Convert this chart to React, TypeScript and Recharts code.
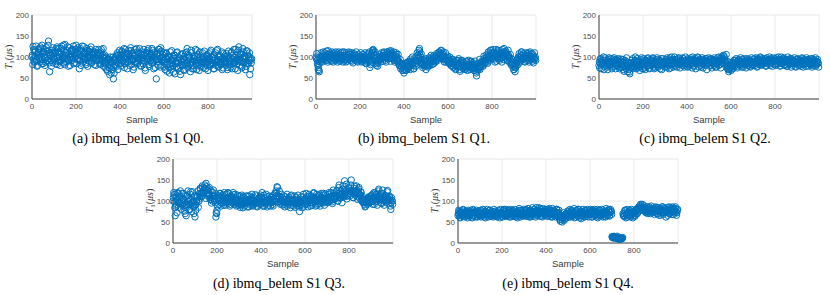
import { CartesianGrid, Scatter, ScatterChart, XAxis, YAxis } from "recharts";

// T1 samples (µs), three interleaved runs per qubit:
// A at samples 0, 5, 10 ..., B and C at the samples in between
const q0T1A = [
  100, 125, 88, 112, 95, 80, 118, 105, 90, 128, 84, 110, 98, 122, 92, 138, 65, 104, 116, 86,
  108, 95, 120, 82, 112, 100, 90, 126, 104, 86, 130, 96, 115, 78, 122, 100, 92, 118, 84, 110,
  128, 94, 112, 72, 120, 102, 88, 125, 98, 82, 115, 105, 90, 118, 85, 108, 96, 112, 80, 104,
  92, 110, 85, 118, 100, 78, 105, 88, 70, 95, 75, 100, 62, 88, 48, 80, 92, 105, 70, 98,
  105, 85, 112, 92, 75, 118, 100, 88, 108, 80, 115, 95, 70, 104, 90, 120, 84, 110, 96, 78,
  112, 90, 105, 68, 98, 115, 82, 108, 92, 120, 86, 100, 75, 48, 95, 118, 88, 122, 80, 105,
  95, 70, 110, 85, 100, 62, 92, 115, 78, 105, 60, 88, 112, 75, 98, 58, 90, 108, 70, 102,
  85, 120, 78, 98, 65, 110, 88, 72, 102, 80, 115, 92, 68, 100, 85, 110, 75, 95, 88, 105,
  68, 98, 112, 82, 92, 72, 105, 88, 115, 78, 100, 85, 95, 70, 108, 90, 80, 102, 75, 96,
  88, 110, 72, 100, 85, 118, 95, 68, 124, 90, 105, 78, 112, 95, 70, 115, 85, 100, 58, 92,
];
const q0T1B = [
  105, 95, 115, 100, 90, 108, 98, 120, 102, 94, 112, 100, 88, 106, 115, 96, 104, 92, 110, 100,
  95, 112, 102, 98, 120, 90, 108, 100, 116, 96, 104, 110, 92, 106, 98, 114, 102, 96, 108, 100,
  104, 110, 96, 106, 92, 114, 100, 108, 94, 110, 98, 102, 112, 96, 104, 92, 108, 100, 96, 110,
  100, 96, 108, 94, 104, 98, 86, 100, 92, 82, 95, 88, 80, 92, 76, 96, 100, 88, 104, 94,
  96, 104, 92, 100, 110, 88, 98, 106, 94, 102, 92, 108, 96, 88, 104, 98, 92, 100, 108, 94,
  98, 106, 92, 102, 110, 96, 100, 90, 108, 98, 104, 92, 100, 106, 94, 102, 110, 96, 100, 92,
  88, 98, 82, 94, 76, 100, 86, 92, 80, 96, 84, 76, 92, 86, 80, 94, 82, 88, 96, 80,
  92, 86, 100, 82, 94, 88, 80, 96, 90, 84, 98, 86, 92, 80, 94, 88, 100, 84, 90, 96,
  88, 94, 82, 100, 86, 92, 96, 80, 94, 88, 102, 90, 84, 96, 88, 100, 92, 86, 98, 90,
  96, 90, 104, 88, 98, 92, 84, 100, 94, 106, 90, 98, 86, 102, 96, 88, 104, 92, 98, 86,
];
const q0T1C = [
  82, 118, 90, 126, 78, 112, 96, 124, 84, 108, 120, 80, 114, 92, 128, 86, 110, 78, 122, 94,
  116, 84, 124, 90, 110, 80, 120, 96, 128, 82, 112, 88, 124, 94, 80, 116, 100, 126, 86, 118,
  84, 122, 92, 116, 80, 126, 94, 110, 86, 120, 78, 114, 100, 124, 88, 112, 82, 118, 92, 106,
  118, 82, 112, 90, 120, 84, 74, 98, 66, 92, 58, 86, 70, 100, 62, 94, 78, 110, 84, 116,
  78, 114, 88, 120, 84, 108, 72, 116, 90, 122, 82, 110, 76, 118, 86, 112, 96, 120, 80, 106,
  84, 118, 74, 110, 90, 120, 78, 104, 86, 116, 72, 112, 94, 108, 80, 118, 76, 114, 92, 110,
  76, 108, 66, 100, 82, 112, 70, 96, 64, 104, 86, 110, 72, 98, 66, 106, 80, 94, 68, 110,
  112, 74, 104, 84, 116, 72, 100, 90, 118, 70, 106, 82, 112, 76, 98, 86, 114, 72, 102, 80,
  108, 78, 116, 84, 100, 72, 110, 88, 118, 76, 104, 82, 112, 74, 96, 86, 108, 70, 114, 82,
  76, 112, 84, 118, 72, 104, 90, 116, 80, 108, 74, 120, 88, 102, 78, 114, 84, 110, 72, 96,
];

const q1T1A = [
  100, 92, 70, 65, 88, 98, 105, 95, 110, 100, 92, 115, 98, 104, 90, 108, 96, 102, 112, 94,
  98, 108, 92, 104, 112, 96, 100, 88, 106, 98, 94, 110, 100, 90, 104, 96, 92, 100, 88, 98,
  96, 102, 90, 100, 94, 86, 98, 104, 92, 75, 100, 110, 118, 104, 92, 80, 78, 90, 100, 95,
  104, 98, 110, 92, 100, 112, 96, 104, 115, 108, 100, 92, 98, 106, 90, 85, 80, 72, 75, 68,
  62, 78, 70, 88, 75, 82, 95, 90, 80, 72, 98, 85, 110, 96, 120, 100, 88, 75, 92, 82,
  70, 88, 80, 95, 85, 98, 90, 84, 100, 92, 105, 96, 112, 100, 115, 108, 95, 100, 88, 92,
  98, 85, 92, 80, 95, 75, 88, 70, 82, 92, 78, 66, 84, 90, 75, 80, 72, 88, 76, 82,
  70, 90, 78, 82, 68, 72, 55, 75, 85, 70, 80, 88, 78, 96, 90, 100, 85, 108, 95, 115,
  102, 118, 95, 108, 90, 112, 100, 96, 115, 88, 105, 120, 98, 110, 92, 104, 100, 85, 95, 78,
  70, 65, 80, 92, 100, 90, 105, 112, 95, 100, 88, 104, 96, 110, 92, 100, 106, 90, 102, 95,
];
const q1T1B = [
  96, 85, 75, 90, 100, 94, 102, 98, 104, 96, 100, 106, 94, 100, 102, 98, 104, 96, 100, 98,
  102, 96, 104, 100, 96, 102, 94, 100, 98, 104, 100, 96, 102, 98, 96, 100, 104, 98, 94, 100,
  100, 94, 98, 96, 102, 90, 94, 100, 96, 86, 104, 114, 110, 96, 86, 84, 88, 96, 94, 100,
  98, 104, 96, 102, 106, 100, 108, 98, 104, 100, 96, 100, 102, 94, 98, 90, 86, 80, 84, 74,
  70, 84, 76, 80, 86, 78, 90, 82, 86, 80, 92, 90, 104, 100, 112, 94, 84, 82, 86, 88,
  78, 82, 86, 90, 92, 94, 96, 90, 96, 98, 100, 102, 106, 108, 104, 100, 98, 94, 96, 90,
  92, 90, 86, 88, 84, 82, 80, 78, 88, 84, 80, 76, 78, 82, 80, 76, 80, 78, 82, 78,
  76, 80, 82, 76, 74, 78, 66, 72, 80, 78, 84, 82, 90, 92, 96, 94, 98, 100, 104, 108,
  108, 110, 104, 100, 100, 104, 106, 102, 108, 98, 110, 112, 104, 102, 100, 98, 96, 90, 88, 84,
  76, 74, 86, 96, 94, 98, 100, 104, 100, 96, 98, 100, 102, 104, 98, 96, 100, 98, 96, 100,
];
const q1T1C = [
  108, 80, 68, 96, 110, 88, 112, 92, 102, 114, 88, 106, 110, 92, 112, 88, 110, 92, 106, 88,
  112, 90, 110, 94, 88, 112, 92, 110, 90, 112, 106, 92, 110, 86, 108, 92, 112, 90, 106, 92,
  110, 88, 106, 92, 110, 84, 108, 90, 112, 82, 92, 116, 106, 112, 98, 88, 94, 106, 88, 110,
  90, 112, 104, 88, 112, 96, 114, 90, 110, 96, 112, 88, 110, 92, 106, 80, 94, 78, 68, 82,
  80, 68, 86, 72, 90, 70, 84, 100, 72, 92, 78, 102, 92, 116, 104, 108, 80, 94, 78, 96,
  92, 76, 98, 80, 104, 82, 102, 96, 88, 108, 92, 110, 100, 116, 96, 112, 88, 110, 98, 102,
  86, 100, 80, 94, 76, 90, 72, 92, 78, 96, 70, 88, 92, 72, 86, 70, 90, 68, 92, 74,
  88, 74, 86, 68, 90, 62, 82, 70, 94, 76, 90, 80, 102, 86, 104, 88, 112, 92, 116, 98,
  96, 112, 88, 118, 98, 116, 92, 110, 100, 118, 94, 108, 114, 92, 116, 88, 106, 80, 84, 70,
  84, 76, 92, 82, 108, 88, 112, 94, 108, 90, 110, 92, 108, 88, 112, 94, 108, 86, 110, 92,
];

const q2T1A = [
  80, 95, 72, 88, 100, 78, 92, 85, 70, 98, 82, 90, 76, 95, 84, 72, 92, 80, 88, 75,
  95, 82, 70, 90, 78, 98, 65, 85, 60, 80, 92, 72, 88, 100, 76, 90, 82, 68, 94, 84,
  78, 92, 70, 86, 96, 80, 74, 90, 84, 98, 72, 88, 80, 94, 76, 92, 85, 70, 96, 82,
  88, 78, 98, 84, 92, 74, 100, 86, 80, 94, 88, 76, 96, 82, 90, 84, 98, 80, 92, 86,
  84, 96, 78, 90, 86, 100, 80, 92, 72, 88, 98, 84, 90, 76, 94, 82, 88, 96, 70, 90,
  86, 94, 80, 90, 84, 98, 76, 92, 88, 100, 82, 94, 86, 104, 98, 88, 80, 72, 65, 75,
  68, 80, 88, 76, 92, 84, 78, 94, 86, 80, 90, 76, 96, 84, 88, 80, 94, 78, 90, 86,
  82, 96, 86, 92, 78, 94, 88, 98, 82, 90, 86, 96, 80, 92, 88, 100, 84, 94, 88, 90,
  96, 84, 92, 100, 88, 80, 94, 86, 98, 82, 90, 78, 94, 88, 84, 96, 80, 92, 86, 76,
  88, 94, 80, 90, 86, 96, 82, 92, 78, 88, 94, 84, 90, 80, 96, 86, 92, 78, 90, 84,
];
const q2T1B = [
  88, 84, 90, 82, 86, 92, 80, 88, 84, 90, 86, 82, 90, 84, 88, 92, 80, 86, 90, 84,
  82, 88, 78, 84, 86, 76, 80, 70, 74, 86, 80, 84, 76, 82, 88, 80, 86, 78, 82, 88,
  86, 82, 90, 84, 80, 88, 86, 82, 92, 86, 84, 90, 82, 88, 86, 84, 90, 82, 86, 88,
  84, 90, 86, 80, 88, 92, 84, 90, 88, 84, 92, 86, 88, 90, 84, 92, 86, 88, 84, 90,
  90, 86, 92, 84, 94, 88, 86, 90, 84, 92, 88, 90, 86, 92, 84, 88, 92, 86, 90, 88,
  88, 84, 90, 86, 92, 86, 88, 84, 92, 88, 90, 92, 96, 94, 92, 84, 76, 70, 72, 80,
  76, 84, 82, 86, 84, 88, 86, 82, 90, 84, 86, 88, 84, 90, 86, 88, 84, 90, 86, 88,
  88, 86, 90, 88, 92, 86, 90, 92, 88, 94, 90, 88, 92, 90, 94, 88, 92, 90, 88, 92,
  90, 92, 88, 94, 90, 86, 90, 92, 88, 90, 86, 88, 90, 86, 92, 88, 86, 90, 88, 84,
  86, 90, 84, 88, 92, 86, 90, 88, 84, 90, 86, 92, 88, 84, 90, 88, 86, 90, 88, 86,
];
const q2T1C = [
  74, 96, 82, 92, 70, 98, 86, 76, 94, 80, 96, 72, 88, 98, 78, 94, 84, 96, 72, 90,
  76, 94, 66, 92, 72, 88, 80, 64, 86, 74, 96, 78, 92, 72, 96, 74, 90, 76, 98, 72,
  96, 74, 92, 78, 98, 72, 94, 80, 96, 76, 90, 74, 98, 78, 92, 72, 96, 80, 88, 76,
  94, 76, 90, 72, 98, 82, 94, 76, 100, 78, 94, 82, 98, 74, 92, 80, 96, 76, 100, 78,
  76, 94, 82, 98, 74, 92, 78, 96, 84, 100, 76, 94, 80, 98, 74, 92, 80, 96, 84, 98,
  78, 96, 74, 94, 80, 92, 76, 98, 80, 96, 74, 100, 84, 102, 92, 106, 90, 78, 70, 86,
  84, 72, 92, 80, 96, 74, 92, 82, 98, 76, 94, 82, 90, 74, 96, 80, 92, 76, 98, 80,
  94, 80, 98, 76, 96, 82, 100, 80, 96, 84, 92, 78, 98, 84, 94, 80, 96, 78, 98, 82,
  80, 98, 84, 92, 78, 100, 84, 96, 80, 94, 78, 100, 82, 96, 76, 92, 84, 98, 78, 94,
  96, 80, 92, 78, 98, 76, 94, 84, 98, 78, 92, 82, 96, 76, 94, 80, 98, 82, 94, 76,
];

const q3T1A = [
  100, 115, 65, 92, 120, 85, 108, 95, 118, 88, 102, 70, 65, 112, 98, 80, 122, 75, 96, 70,
  62, 92, 108, 85, 118, 128, 110, 132, 120, 138, 142, 125, 115, 132, 108, 95, 120, 112, 100, 62,
  78, 112, 100, 118, 95, 108, 90, 115, 102, 98, 120, 105, 92, 110, 100, 115, 96, 108, 102, 90,
  98, 85, 105, 92, 110, 88, 100, 95, 112, 86, 102, 94, 108, 90, 100, 115, 88, 104, 96, 110,
  92, 120, 98, 88, 105, 94, 110, 90, 100, 96, 108, 88, 104, 98, 118, 132, 112, 100, 95, 108,
  100, 92, 110, 98, 88, 105, 95, 112, 90, 102, 96, 85, 108, 94, 100, 75, 98, 92, 110, 88,
  104, 118, 92, 100, 112, 88, 106, 96, 120, 98, 110, 90, 102, 115, 94, 108, 100, 118, 96, 110,
  106, 98, 120, 100, 112, 94, 118, 104, 110, 125, 100, 138, 115, 108, 128, 112, 148, 118, 105, 122,
  130, 112, 150, 120, 108, 135, 118, 125, 110, 132, 105, 120, 112, 98, 92, 88, 100, 95, 110, 104,
  98, 115, 106, 92, 120, 100, 112, 128, 104, 96, 118, 108, 90, 112, 100, 125, 95, 108, 80, 102,
];
const q3T1B = [
  108, 98, 88, 104, 100, 96, 112, 100, 92, 104, 96, 84, 88, 100, 106, 92, 104, 96, 100, 88,
  90, 100, 112, 104, 110, 118, 120, 122, 128, 130, 126, 118, 120, 112, 104, 108, 112, 104, 96, 72,
  88, 104, 108, 102, 110, 100, 104, 106, 98, 108, 104, 100, 106, 102, 108, 98, 104, 100, 94, 96,
  92, 96, 100, 98, 94, 100, 104, 98, 100, 96, 104, 100, 98, 102, 96, 98, 102, 98, 100, 98,
  100, 104, 96, 98, 100, 102, 98, 104, 96, 100, 98, 104, 100, 106, 110, 112, 104, 98, 102, 100,
  98, 104, 96, 100, 102, 98, 104, 96, 100, 98, 102, 94, 100, 96, 98, 92, 100, 98, 104, 100,
  98, 102, 106, 100, 104, 102, 98, 104, 108, 102, 104, 106, 100, 104, 108, 102, 106, 104, 100, 106,
  104, 108, 106, 110, 104, 108, 112, 106, 110, 112, 108, 118, 112, 116, 118, 114, 124, 120, 112, 118,
  118, 122, 126, 124, 118, 120, 124, 118, 120, 116, 112, 108, 104, 100, 96, 98, 104, 100, 106, 102,
  104, 100, 108, 104, 106, 110, 104, 108, 112, 104, 106, 110, 104, 102, 108, 106, 104, 102, 96, 100,
];
const q3T1C = [
  120, 84, 110, 72, 118, 94, 124, 80, 106, 118, 76, 112, 92, 124, 80, 116, 94, 122, 86, 112,
  78, 110, 124, 100, 130, 112, 136, 118, 130, 106, 134, 112, 128, 104, 124, 100, 126, 106, 118, 70,
  112, 92, 118, 88, 114, 96, 120, 90, 116, 94, 118, 88, 112, 96, 120, 92, 116, 88, 114, 102,
  112, 90, 114, 84, 108, 96, 112, 86, 104, 112, 90, 116, 88, 108, 94, 112, 86, 104, 92, 114,
  108, 88, 114, 96, 116, 86, 104, 112, 88, 110, 92, 114, 118, 124, 134, 108, 124, 92, 116, 90,
  112, 86, 104, 116, 92, 108, 84, 114, 100, 88, 112, 92, 104, 114, 86, 96, 110, 84, 116, 94,
  92, 110, 86, 116, 96, 112, 90, 118, 100, 88, 116, 94, 112, 88, 118, 96, 114, 90, 116, 98,
  96, 116, 102, 120, 98, 126, 104, 114, 122, 100, 132, 108, 124, 96, 136, 110, 128, 140, 112, 132,
  116, 138, 124, 108, 130, 114, 136, 104, 128, 116, 122, 100, 96, 104, 86, 102, 92, 108, 96, 112,
  112, 92, 120, 98, 116, 90, 124, 102, 118, 94, 126, 100, 114, 96, 122, 104, 112, 88, 108, 92,
];

const q4T1A = [
  65, 75, 60, 72, 68, 78, 62, 70, 74, 64, 72, 66, 78, 60, 70, 75, 62, 68, 74, 65,
  70, 62, 76, 68, 72, 60, 74, 66, 70, 78, 64, 72, 62, 68, 76, 70, 64, 74, 60, 72,
  68, 76, 80, 64, 72, 66, 78, 70, 62, 74, 68, 76, 64, 72, 60, 70, 78, 66, 74, 68,
  72, 64, 78, 70, 66, 76, 62, 74, 68, 80, 72, 84, 66, 76, 70, 82, 64, 74, 68, 78,
  70, 76, 64, 82, 68, 74, 62, 78, 70, 66, 80, 72, 60, 52, 66, 55, 72, 58, 64, 70,
  74, 62, 70, 78, 66, 72, 60, 76, 68, 80, 64, 72, 58, 74, 68, 62, 76, 70, 64, 72,
  68, 76, 62, 72, 80, 66, 74, 60, 70, 78, 64, 72, 68, 76, 62, 74, 70, 80, 66, 74,
  15, 12, 16, 13, 14, 10, 11, 9, 12, 10, 70, 64, 76, 68, 62, 72, 78, 66, 74, 60,
  72, 64, 78, 70, 82, 88, 92, 80, 86, 76, 84, 72, 80, 74, 86, 70, 82, 78, 74, 84,
  76, 84, 70, 80, 66, 78, 86, 72, 82, 62, 76, 84, 70, 80, 74, 86, 68, 78, 82, 72,
];
const q4T1B = [
  70, 68, 72, 66, 74, 70, 68, 72, 66, 70, 74, 68, 70, 72, 66, 70, 74, 68, 72, 70,
  68, 72, 70, 66, 70, 74, 68, 72, 66, 70, 72, 68, 74, 70, 68, 72, 70, 66, 72, 70,
  72, 70, 74, 68, 70, 72, 68, 74, 70, 72, 66, 70, 72, 68, 74, 70, 72, 68, 70, 72,
  70, 74, 72, 68, 74, 70, 72, 70, 74, 72, 76, 72, 74, 70, 76, 72, 70, 76, 72, 74,
  72, 70, 74, 70, 72, 68, 74, 70, 72, 74, 70, 72, 64, 62, 60, 64, 66, 68, 70, 68,
  70, 68, 72, 66, 70, 74, 68, 70, 66, 72, 70, 68, 66, 70, 72, 68, 70, 72, 68, 70,
  72, 70, 68, 74, 70, 72, 68, 70, 74, 72, 70, 68, 72, 70, 74, 72, 70, 74, 72, 76,
  14, 13, 15, 12, 12, 11, 10, 11, 10, 11, 66, 70, 72, 68, 70, 68, 72, 70, 68, 70,
  74, 72, 76, 78, 80, 84, 82, 80, 78, 80, 76, 78, 80, 76, 74, 78, 80, 76, 78, 80,
  80, 76, 78, 74, 76, 80, 74, 78, 76, 74, 80, 78, 76, 74, 78, 76, 80, 76, 74, 78,
];
const q4T1C = [
  78, 62, 74, 66, 80, 64, 72, 76, 60, 78, 64, 74, 62, 80, 66, 72, 78, 62, 76, 64,
  78, 66, 80, 62, 76, 68, 80, 62, 78, 64, 76, 66, 80, 64, 72, 62, 78, 66, 80, 64,
  62, 78, 66, 80, 64, 76, 62, 80, 66, 78, 64, 80, 62, 76, 66, 82, 62, 78, 64, 80,
  66, 80, 64, 82, 62, 78, 66, 84, 64, 80, 62, 78, 66, 84, 64, 80, 62, 82, 66, 80,
  64, 80, 66, 78, 62, 82, 66, 76, 62, 80, 64, 78, 56, 66, 50, 62, 54, 68, 60, 76,
  64, 80, 62, 76, 66, 82, 62, 78, 64, 80, 60, 76, 64, 80, 62, 78, 66, 80, 62, 78,
  80, 62, 78, 66, 76, 62, 80, 64, 78, 66, 80, 62, 76, 64, 82, 66, 78, 64, 80, 68,
  13, 15, 12, 14, 16, 10, 9, 12, 11, 13, 64, 78, 60, 80, 66, 74, 62, 80, 64, 76,
  66, 80, 70, 84, 76, 90, 86, 92, 82, 88, 74, 86, 70, 84, 76, 88, 72, 82, 68, 86,
  70, 84, 66, 82, 72, 86, 68, 84, 74, 80, 66, 86, 70, 84, 68, 82, 74, 86, 66, 80,
];

const sampleStep = 5;
const xTicks = [0, 200, 400, 600, 800];
const yTicks = [0, 50, 100, 150, 200];

const toPoints = (runs: number[][]) =>
  runs.flatMap((run, k) =>
    run.map((t1, i) => ({
      sample: i * sampleStep + (k * sampleStep) / runs.length,
      t1,
    })),
  );

const tickStyle = {
  fontSize: 8,
  fill: "#4d4d4d",
  fontFamily: "'Liberation Sans', Arial, sans-serif",
};

function Marker(props: any) {
  return (
    <circle
      cx={props.cx}
      cy={props.cy}
      r={3.2}
      fill="none"
      stroke="#0072BD"
      strokeWidth={1}
    />
  );
}

function T1Label({ viewBox }: any) {
  const cx = viewBox.x + 10;
  const cy = viewBox.y + viewBox.height / 2;
  return (
    <text
      x={cx}
      y={cy}
      transform={`rotate(-90 ${cx} ${cy})`}
      textAnchor="middle"
      dominantBaseline="middle"
      fontSize={10}
      fill="#404040"
      fontFamily="'Liberation Serif', serif"
    >
      <tspan fontStyle="italic">T</tspan>
      <tspan fontSize={7} dy={2}>
        1
      </tspan>
      <tspan dy={-2}>(</tspan>
      <tspan fontStyle="italic">μs</tspan>
      <tspan>)</tspan>
    </text>
  );
}

function Panel({
  runs,
  left,
  top,
  caption,
  captionX,
  captionY,
}: {
  runs: number[][];
  left: number;
  top: number;
  caption: string;
  captionX: number;
  captionY: number;
}) {
  return (
    <>
      <div style={{ position: "absolute", left: left - 32, top: top - 15 }}>
        <ScatterChart
          width={260}
          height={125}
          margin={{ top: 15, right: 8, bottom: 0, left: 0 }}
        >
          <CartesianGrid stroke="#e3e3e3" strokeWidth={0.8} />
          <XAxis
            type="number"
            dataKey="sample"
            domain={[0, 1000]}
            ticks={xTicks}
            height={26}
            tick={tickStyle}
            tickLine={false}
            tickSize={0}
            tickMargin={4}
            stroke="#404040"
            label={{
              value: "Sample",
              position: "insideBottom",
              offset: 2,
              fontSize: 9.5,
              fill: "#404040",
              fontFamily: "'Liberation Sans', Arial, sans-serif",
            }}
          />
          <YAxis
            type="number"
            dataKey="t1"
            domain={[0, 200]}
            ticks={yTicks}
            width={32}
            tick={tickStyle}
            tickLine={false}
            tickSize={0}
            tickMargin={3}
            stroke="#404040"
            label={{ content: T1Label }}
          />
          <Scatter
            data={toPoints(runs)}
            shape={Marker}
            isAnimationActive={false}
          />
        </ScatterChart>
      </div>
      <div
        style={{
          position: "absolute",
          left: captionX - 100,
          top: captionY - 8,
          width: 200,
          textAlign: "center",
          fontFamily: "'Liberation Serif', 'Times New Roman', serif",
          fontSize: 14,
          lineHeight: "16px",
          color: "#000",
          whiteSpace: "nowrap",
        }}
      >
        {caption}
      </div>
    </>
  );
}

export default function App() {
  return (
    <div
      style={{
        position: "absolute",
        left: 0,
        top: 0,
        width: 830,
        height: 295,
        background: "#fff",
        overflow: "hidden",
      }}
    >
      <Panel runs={[q0T1A, q0T1B, q0T1C]} left={32} top={15} caption="(a) ibmq_belem S1 Q0." captionX={138} captionY={139} />
      <Panel runs={[q1T1A, q1T1B, q1T1C]} left={316} top={15} caption="(b) ibmq_belem S1 Q1." captionX={424} captionY={139} />
      <Panel runs={[q2T1A, q2T1B, q2T1C]} left={599} top={15} caption="(c) ibmq_belem S1 Q2." captionX={705} captionY={139} />
      <Panel runs={[q3T1A, q3T1B, q3T1C]} left={173} top={159} caption="(d) ibmq_belem S1 Q3." captionX={279} captionY={284} />
      <Panel runs={[q4T1A, q4T1B, q4T1C]} left={458} top={159} caption="(e) ibmq_belem S1 Q4." captionX={568} captionY={284} />
    </div>
  );
}
